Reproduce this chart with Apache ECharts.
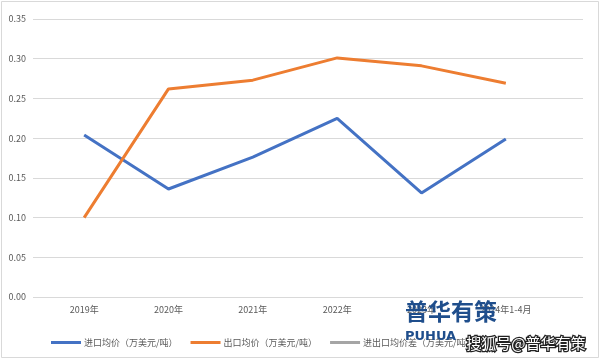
<!DOCTYPE html>
<html><head><meta charset="utf-8">
<script src="https://cdn.jsdelivr.net/npm/echarts@6/dist/echarts.min.js"></script>
<style>html,body{margin:0;padding:0;background:#fff}#c{width:601px;height:361px}</style>
</head><body><div id="c"></div>
<script>
const categories = ['2019年','2020年','2021年','2022年','2023年','2024年1-4月'];
const importPrice = [0.204, 0.136, 0.176, 0.225, 0.131, 0.199];
const exportPrice = [0.100, 0.262, 0.273, 0.301, 0.291, 0.269];
const priceGap = [];
const seriesNames = ['进口均价（万美元/吨）','出口均价（万美元/吨）','进出口均价差（万美元/吨）'];
const yTicks = [0, 0.05, 0.10, 0.15, 0.20, 0.25, 0.30, 0.35];

const font = '"Noto Sans CJK SC", "Microsoft YaHei", sans-serif';
const chart = echarts.init(document.getElementById('c'));
chart.setOption({
  animation: false,
  backgroundColor: '#fff',
  grid: [
    {left: 33, right: 18, top: 19, bottom: 64},
    {left: 42, right: 53, top: 19, bottom: 64}
  ],
  xAxis: [
    {gridIndex: 0, type: 'category', data: categories, show: false},
    {gridIndex: 1, type: 'category', data: categories, boundaryGap: true,
     axisLine: {show: false}, axisTick: {show: false},
     axisLabel: {color: '#595959', fontSize: 9, fontFamily: font, margin: 8, interval: 0}}
  ],
  yAxis: [
    {gridIndex: 0, type: 'value', min: yTicks[0], max: yTicks[yTicks.length-1], interval: 0.05,
     axisLine: {show: false}, axisTick: {show: false},
     axisLabel: {color: '#595959', fontSize: 9, fontFamily: font, margin: 7, formatter: v => v.toFixed(2)},
     splitLine: {lineStyle: {color: '#d9d9d9', width: 1}}},
    {gridIndex: 1, type: 'value', min: yTicks[0], max: yTicks[yTicks.length-1], interval: 0.05, show: false, splitLine: {show: false}}
  ],
  legend: {
    left: 46, top: 333, itemWidth: 30, itemHeight: 3, itemGap: 13, icon: 'rect',
    textStyle: {color: '#595959', fontSize: 9, fontFamily: font, padding: [0,0,0,-2]},
    data: seriesNames
  },
  series: [
    {name: seriesNames[0], type: 'line', xAxisIndex: 1, yAxisIndex: 1, data: importPrice,
     symbol: 'none', lineStyle: {color: '#4472C4', width: 3}, itemStyle: {color: '#4472C4'}},
    {name: seriesNames[1], type: 'line', xAxisIndex: 1, yAxisIndex: 1, data: exportPrice,
     symbol: 'none', lineStyle: {color: '#ED7D31', width: 3}, itemStyle: {color: '#ED7D31'}},
    {name: seriesNames[2], type: 'line', xAxisIndex: 1, yAxisIndex: 1, data: priceGap,
     symbol: 'none', lineStyle: {color: '#A5A5A5', width: 3}, itemStyle: {color: '#A5A5A5'}}
  ],
  graphic: [
    {type: 'rect', shape: {x: 1.5, y: 1.5, width: 597, height: 356}, style: {fill: 'none', stroke: '#d9d9d9', lineWidth: 1}, silent: true},
    {type: 'text', left: 405, top: 300, style: {text: '普华有策', fill: '#1f4e8c', font: 'bold 23px "Noto Sans CJK SC", sans-serif'}, z: 100},
    {type: 'text', left: 405, top: 330, style: {text: 'PUHUA', fill: '#1f4e8c', font: 'bold 13px "DejaVu Sans", sans-serif'}, z: 100},
    {type: 'text', left: 465, top: 335, style: {text: '搜狐号@普华有策', fill: '#fff', stroke: '#222', lineWidth: 2.5, font: '15px "Noto Sans CJK SC", sans-serif'}, z: 101}
  ]
});
</script></body></html>
